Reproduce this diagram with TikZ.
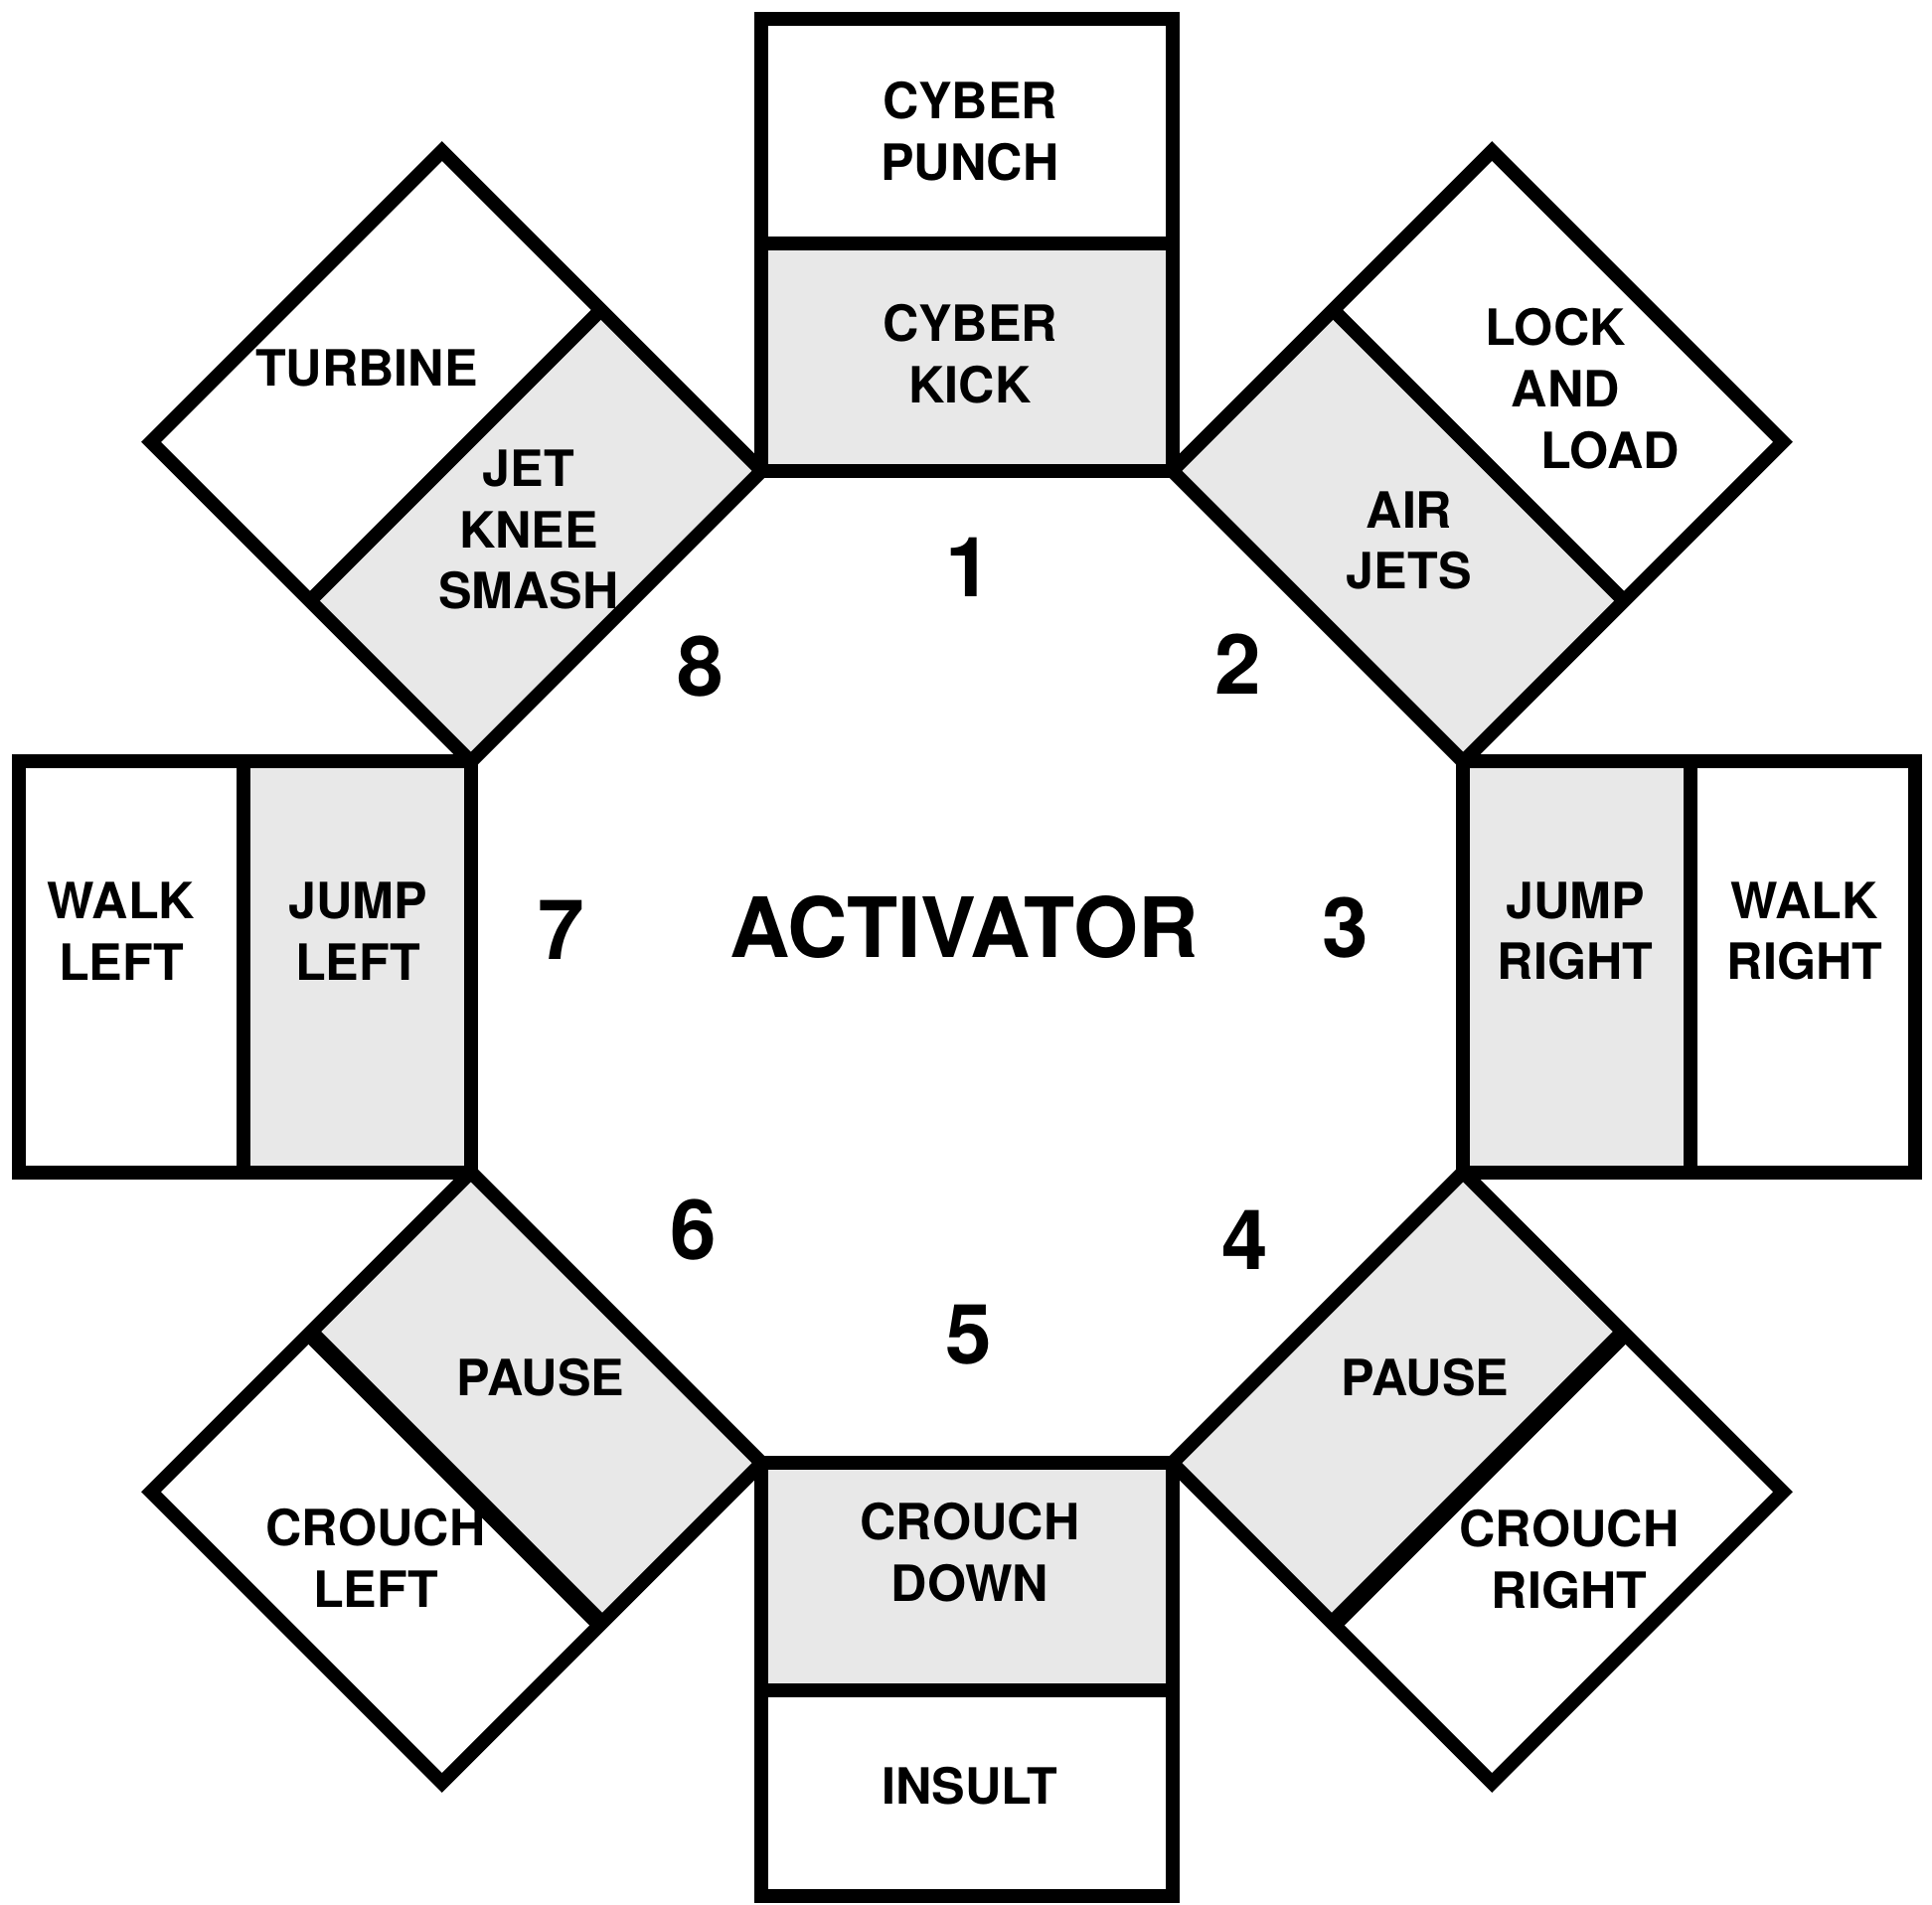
\documentclass[tikz,border=0pt]{standalone}
\usepackage{fontspec}
\setmainfont{TeX Gyre Heros}
\definecolor{shadegray}{RGB}{232,232,232}
\tikzset{
  lbl/.style={font=\bfseries\fontsize{14.3}{17.6}\selectfont, align=center, inner sep=0pt},
  big/.style={font=\bfseries\fontsize{23.8}{27}\selectfont, inner sep=0pt},
  boxline/.style={line width=0.14cm, line join=miter, draw=black}
}
\begin{document}
\begin{tikzpicture}[x=0.01cm,y=-0.01cm]
\useasboundingbox (0,0) rectangle (1944,1917);
\fill[white] (0,0) rectangle (1944,1917);
\begin{scope}
\clip (0,0) rectangle (1944,1917);
\foreach \k/\d/\w in {0/954/0.14,1/954/0.14,2/954/0.14,3/954/0.18,4/935/0.14,5/954/0.18,6/954/0.14,7/954/0.14}{
  \begin{scope}[shift={(973,973)}, rotate=-45*\k]
    \fill[shadegray] (-207,-499) rectangle (207,-728);
    \draw[boxline] (-207,-499) rectangle (207,-\d);
    \draw[boxline, line width=\w cm] (-207,-728) -- (207,-728);
  \end{scope}
}
\end{scope}
% box labels
\node[lbl] (punch) at (976,132) {CYBER\\PUNCH};
\node[lbl] (kick) at (976,356) {CYBER\\KICK};
\node[lbl] (turbine) at (369,370) {TURBINE};
\node[lbl] (jet) at (532,533) {JET\\KNEE\\SMASH};
\node[lbl, align=left, anchor=west] (lock) at (1494,391) {LOCK\\\hspace*{0.26cm}AND\\\hspace*{0.56cm}LOAD};
\node[lbl] (airjets) at (1418,544) {AIR\\JETS};
\node[lbl] (walkleft) at (122,937) {WALK\\LEFT};
\node[lbl] (jumpleft) at (360,937) {JUMP\\LEFT};
\node[lbl] (jumpright) at (1585,937) {JUMP\\RIGHT};
\node[lbl] (walkright) at (1816,937) {WALK\\RIGHT};
\node[lbl] (pausel) at (544,1386) {PAUSE};
\node[lbl] (crouchl) at (378,1568) {CROUCH\\LEFT};
\node[lbl] (pauser) at (1434,1386) {PAUSE};
\node[lbl] (crouchr) at (1579,1569) {CROUCH\\RIGHT};
\node[lbl] (crouchd) at (976,1562) {CROUCH\\DOWN};
\node[lbl] (insult) at (976,1797) {INSULT};
% numbers and centre
\node[big] (activator) at (970,933) {ACTIVATOR};
\node[big] (n1) at (975,571) {1};
\node[big] (n2) at (1246,668) {2};
\node[big] (n3) at (1354,934) {3};
\node[big] (n4) at (1253,1248) {4};
\node[big] (n5) at (975,1343) {5};
\node[big] (n6) at (698,1238) {6};
\node[big] (n7) at (565,936) {7};
\node[big] (n8) at (705,671) {8};
\end{tikzpicture}
\end{document}
